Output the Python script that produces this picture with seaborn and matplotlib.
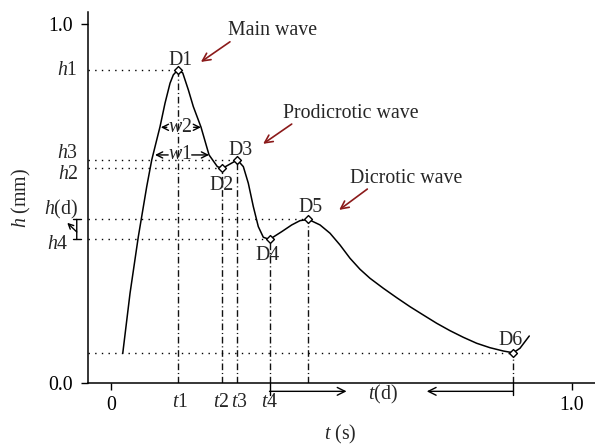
import matplotlib
matplotlib.use("Agg")
import matplotlib.pyplot as plt
import pandas as pd
import seaborn as sns

# ---- data ----
wave_t = [0.0254, 0.0412, 0.0592, 0.0774, 0.0883, 0.0991, 0.1063, 0.1171, 0.1280, 0.1351,
          0.1443, 0.1555, 0.1677, 0.1785, 0.1952, 0.2126, 0.2306, 0.2414, 0.2740, 0.2870,
          0.2978, 0.3087, 0.3195, 0.3304, 0.3438, 0.3703, 0.3920, 0.4100, 0.4284, 0.4534,
          0.4751, 0.4967, 0.5184, 0.5401, 0.5618, 0.5907, 0.6197, 0.6486, 0.6774, 0.7065,
          0.7354, 0.7642, 0.7933, 0.8221, 0.8510, 0.8727, 0.8872, 0.8980, 0.9074]
wave_h = [0.0827, 0.2499, 0.4075, 0.5468, 0.6212, 0.6769, 0.7139, 0.7791, 0.8348, 0.8579,
          0.8710, 0.8635, 0.8162, 0.7696, 0.7123, 0.6351, 0.6025, 0.5975, 0.6212, 0.6025,
          0.5563, 0.4911, 0.4354, 0.4058, 0.3997, 0.4214, 0.4401, 0.4521, 0.4554, 0.4401,
          0.4170, 0.3844, 0.3474, 0.3167, 0.2916, 0.2638, 0.2376, 0.2125, 0.1894, 0.1663,
          0.1457, 0.1273, 0.1106, 0.0983, 0.0891, 0.0841, 0.0967, 0.1150, 0.1309]

peak_labels = ["D1", "D2", "D3", "D4", "D5", "D6"]
peak_t = [0.1443, 0.2414, 0.2740, 0.3438, 0.4284, 0.8727]
peak_h = [0.8710, 0.5975, 0.6212, 0.3997, 0.4554, 0.0841]

h_tick_labels = ["$h$1", "$h$2", "$h$3", "$h$4", "$h$(d)"]
t_tick_labels = ["$t$1", "$t$2", "$t$3", "$t$4"]
x_major_ticks = [0.0, 1.0]
x_major_labels = ["0", "1.0"]
y_major_ticks = [0.0, 1.0]
y_major_labels = ["0.0", "1.0"]

wave_names = ["Main wave", "Prodicrotic wave", "Dicrotic wave"]

# ---- style ----
sns.set_theme(style="ticks")
plt.rcParams["font.family"] = ["Liberation Serif", "DejaVu Serif"]
plt.rcParams["mathtext.fontset"] = "custom"
plt.rcParams["mathtext.it"] = "Liberation Serif:italic"
plt.rcParams["mathtext.rm"] = "Liberation Serif"
FS = 14.3
RED = "#8b1a1a"

fig = plt.figure(figsize=(5.95, 4.46), dpi=100)
ax = fig.add_axes([88 / 595, 63 / 446, 507 / 595, 371 / 446])

df = pd.DataFrame({"t": wave_t, "h": wave_h})
sns.lineplot(data=df, x="t", y="h", sort=False, estimator=None, color="black",
             lw=1.1, ax=ax, zorder=3)

XMIN, XMAX, YMIN, YMAX = -0.05, 1.05, 0.0, 1.033
ax.set_xlim(XMIN, XMAX)
ax.set_ylim(YMIN, YMAX)

dotted = (0, (1.0, 3.8))
dashdot = (0, (4.8, 2.0, 0.8, 2.0))

# horizontal dotted guides and vertical dash-dot guides
for t, h in zip(peak_t, peak_h):
    ax.plot([XMIN, t], [h, h], ls=dotted, color="black", lw=1.0, zorder=2)
    ax.plot([t, t], [0, h], ls=dashdot, color="#111111", lw=1.0, zorder=2)

# markers
sns.scatterplot(x=peak_t, y=peak_h, marker="D", s=16, color="white",
                edgecolor="black", linewidth=1.0, ax=ax, zorder=5, legend=False)

# point labels (baseline positions)
d_pos = {"D1": (0.1497, 0.886), "D2": (0.2400, 0.5376), "D3": (0.2810, 0.635),
         "D4": (0.3395, 0.3426), "D5": (0.4334, 0.477), "D6": (0.8670, 0.1058)}
for lab in peak_labels:
    x, y = d_pos[lab]
    ax.text(x, y, lab, ha="center", va="baseline", fontsize=FS)

# wave names with red arrows
ax.text(0.253, 0.969, wave_names[0], ha="left", va="baseline", fontsize=FS)
ax.text(0.374, 0.737, wave_names[1], ha="left", va="baseline", fontsize=FS)
ax.text(0.518, 0.557, wave_names[2], ha="left", va="baseline", fontsize=FS)
red_arrows = [((0.258, 0.950), (0.195, 0.894)),
              ((0.392, 0.721), (0.330, 0.666)),
              ((0.556, 0.540), (0.495, 0.482))]
for start, end in red_arrows:
    ax.annotate("", xy=end, xytext=start,
                arrowprops=dict(arrowstyle="->", color=RED, lw=1.2,
                                shrinkA=0, shrinkB=0, mutation_scale=14))

# w1 / w2 widths
ax.text(0.150, 0.712, "$w$2", ha="center", va="center", fontsize=FS)
ax.text(0.150, 0.635, "$w$1", ha="center", va="center", fontsize=FS)
for (xa, xb), y in [((0.121, 0.108), 0.712), ((0.179, 0.195), 0.712),
                    ((0.124, 0.0954), 0.635), ((0.175, 0.2126), 0.635)]:
    ax.annotate("", xy=(xb, y), xytext=(xa, y),
                arrowprops=dict(arrowstyle="->", color="black", lw=1.0,
                                shrinkA=0, shrinkB=0, mutation_scale=11))

# axes ticks
ax.set_xticks(x_major_ticks)
ax.set_xticklabels(x_major_labels)
ax.set_yticks(y_major_ticks)
ax.set_yticklabels(y_major_labels)
ax.tick_params(axis="both", direction="out", length=5, width=1.0, color="black",
               labelsize=FS, labelcolor="black")
ax.tick_params(axis="x", pad=4)
ax.tick_params(axis="y", pad=6)
for sp in ["top", "right"]:
    ax.spines[sp].set_visible(False)
for sp in ["left", "bottom"]:
    ax.spines[sp].set_color("black")
    ax.spines[sp].set_linewidth(1.1)

# h labels on y axis (baseline positions, data coords)
h_pos = {"$h$1": (-0.073, 0.858), "$h$3": (-0.071, 0.627), "$h$2": (-0.071, 0.569),
         "$h$(d)": (-0.071, 0.470), "$h$4": (-0.0926, 0.374)}
for lab in h_tick_labels:
    x, y = h_pos[lab]
    ax.text(x, y, lab, ha="right", va="baseline", fontsize=FS, clip_on=False)

# t labels on x axis
t_pos = [0.1497, 0.2386, 0.2790, 0.3450]
for lab, x in zip(t_tick_labels, t_pos):
    ax.text(x, -0.066, lab, ha="center", va="baseline", fontsize=FS, clip_on=False)

# h(d) - h4 dimension marker
ax.annotate("", xy=(-0.0744, 0.4554), xytext=(-0.0744, 0.3997),
            arrowprops=dict(arrowstyle="|-|,widthA=0.25,widthB=0.25", color="black",
                            lw=1.0, shrinkA=0, shrinkB=0), annotation_clip=False)
ax.annotate("", xy=(-0.0950, 0.446), xytext=(-0.0744, 0.4206),
            arrowprops=dict(arrowstyle="->", color="black", lw=1.0,
                            shrinkA=0, shrinkB=0, mutation_scale=9), annotation_clip=False)

# t(d) span below the axis
yb = -0.0232
for x in [peak_t[3], peak_t[5]]:
    ax.plot([x, x], [0, -0.033], color="black", lw=1.0, clip_on=False)
ax.annotate("", xy=(0.511, yb), xytext=(peak_t[3], yb),
            arrowprops=dict(arrowstyle="->", color="black", lw=1.0,
                            shrinkA=0, shrinkB=0, mutation_scale=14), annotation_clip=False)
ax.annotate("", xy=(0.685, yb), xytext=(peak_t[5], yb),
            arrowprops=dict(arrowstyle="->", color="black", lw=1.0,
                            shrinkA=0, shrinkB=0, mutation_scale=14), annotation_clip=False)
ax.text(0.589, -0.033, "$t$(d)", ha="center", va="center", fontsize=FS, clip_on=False)

# axis titles
ax.set_xlabel("$t$ (s)", fontsize=FS)
ax.xaxis.set_label_coords(0.497, -0.108)
ax.set_ylabel("$h$ (mm)", fontsize=FS)
ax.yaxis.set_label_coords(-0.108, 0.5)

fig.savefig("out.png", dpi=100)
